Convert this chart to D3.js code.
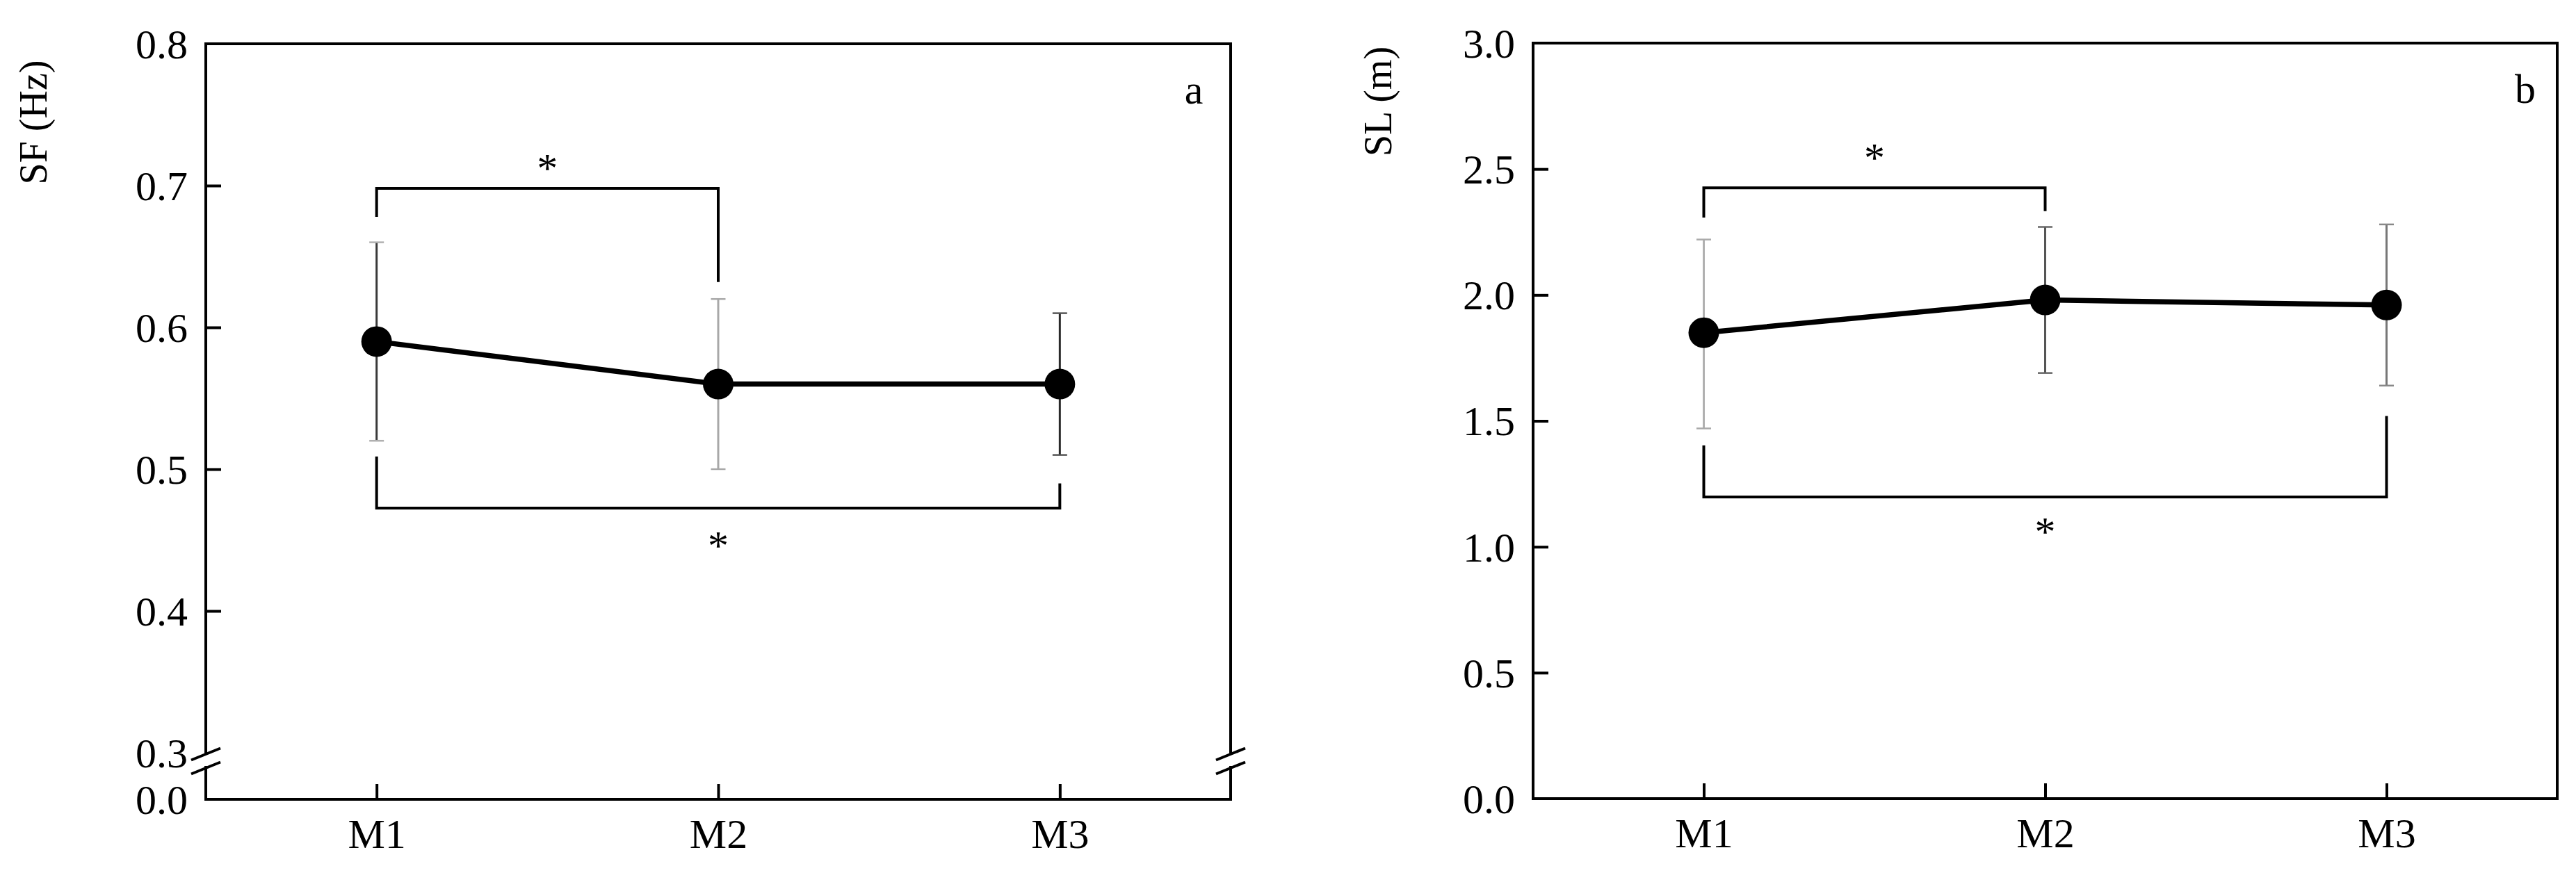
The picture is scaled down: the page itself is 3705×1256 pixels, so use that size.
<!DOCTYPE html>
<html>
<head>
  <meta charset="utf-8">
  <style>
    body { margin: 0; background: #fff; }
    text { font-family: "Liberation Serif", "Times New Roman", serif; fill: #000; }
  </style>
</head>
<body>
<script src="https://d3js.org/d3.v7.min.js"></script>
<script>

// categories and values
var groups = ["M1", "M2", "M3"];

var sfMean = [0.59, 0.56, 0.56];
var sfLow  = [0.52, 0.50, 0.51];
var sfHigh = [0.66, 0.62, 0.61];
var sfTicks = [0.0, 0.3, 0.4, 0.5, 0.6, 0.7, 0.8];

var slMean = [1.85, 1.98, 1.96];
var slLow  = [1.47, 1.69, 1.64];
var slHigh = [2.22, 2.27, 2.28];
var slTicks = [0.0, 0.5, 1.0, 1.5, 2.0, 2.5, 3.0];

// significance brackets: from group, to group, bar level, leg ends, star level
var sfSig = [
  { a: 0, b: 1, y: 0.698, endA: 0.678, endB: 0.632, star: 0.716 },
  { a: 0, b: 2, y: 0.4725, endA: 0.509, endB: 0.490, star: 0.450 }
];
var slSig = [
  { a: 0, b: 1, y: 2.425, endA: 2.307, endB: 2.333, star: 2.566 },
  { a: 0, b: 2, y: 1.1975, endA: 1.403, endB: 1.519, star: 1.083 }
];

var W = 3705, H = 1256;
var svg = d3.select("body").append("svg")
  .attr("width", W)
  .attr("height", H);
svg.append("rect").attr("width", W).attr("height", H).attr("fill", "#fff");

function drawPanel(p) {
  var g = svg.append("g");

  var x = d3.scaleLinear().domain([0.5, 3.5]).range([p.left, p.right]);
  var y = d3.scaleLinear().domain(p.yDomain).range(p.yRange);

  // y axis (ticks point inward)
  var yAxis = g.append("g")
    .attr("transform", "translate(" + p.left + ",0)")
    .call(d3.axisLeft(y).tickValues(p.ticks).tickSize(-22).tickPadding(26)
      .tickFormat(d3.format(".1f")));
  yAxis.select(".domain").remove();
  yAxis.selectAll(".tick line")
    .attr("stroke", "#000").attr("stroke-width", 4)
    .attr("display", function(d) { return p.noTick.indexOf(d) >= 0 ? "none" : null; });
  yAxis.selectAll(".tick text").attr("font-size", 60).attr("dy", "0.34em");

  // x axis
  var xAxis = g.append("g")
    .attr("transform", "translate(0," + p.bottom + ")")
    .call(d3.axisBottom(x).tickValues([1, 2, 3]).tickSize(-22).tickPadding(27)
      .tickFormat(function(d) { return groups[d - 1]; }));
  xAxis.select(".domain").remove();
  xAxis.selectAll(".tick line").attr("stroke", "#000").attr("stroke-width", 4);
  xAxis.selectAll(".tick text").attr("font-size", 60);

  // frame
  var frame = g.append("g").attr("stroke", "#000").attr("stroke-width", 4)
    .attr("stroke-linecap", "square").attr("fill", "none");
  frame.append("line").attr("x1", p.left).attr("x2", p.right).attr("y1", p.top).attr("y2", p.top);
  frame.append("line").attr("x1", p.left).attr("x2", p.right).attr("y1", p.bottom).attr("y2", p.bottom);
  [p.left, p.right].forEach(function(xx) {
    if (p.brk) {
      frame.append("line").attr("x1", xx).attr("x2", xx).attr("y1", p.top).attr("y2", p.brk[0]);
      frame.append("line").attr("x1", xx).attr("x2", xx).attr("y1", p.brk[1]).attr("y2", p.bottom);
      [p.brk[0] + 2, p.brk[1] + 1].forEach(function(cy) {
        frame.append("line").attr("stroke-linecap", "butt")
          .attr("x1", xx - 21).attr("y1", cy + 8.5)
          .attr("x2", xx + 21).attr("y2", cy - 8.5);
      });
    } else {
      frame.append("line").attr("x1", xx).attr("x2", xx).attr("y1", p.top).attr("y2", p.bottom);
    }
  });

  // error bars
  var err = g.append("g");
  p.mean.forEach(function(m, i) {
    var cx = x(i + 1);
    err.append("line").attr("x1", cx).attr("x2", cx)
      .attr("y1", y(p.low[i])).attr("y2", y(p.high[i]))
      .attr("stroke", p.errColor[i]).attr("stroke-width", 3);
    [p.low[i], p.high[i]].forEach(function(v) {
      err.append("line").attr("x1", cx - 10.5).attr("x2", cx + 10.5)
        .attr("y1", y(v)).attr("y2", y(v))
        .attr("stroke", p.capColor[i]).attr("stroke-width", 2.5);
    });
  });

  // mean line and markers
  var line = d3.line()
    .x(function(d, i) { return x(i + 1); })
    .y(function(d) { return y(d); });
  g.append("path").attr("d", line(p.mean))
    .attr("fill", "none").attr("stroke", "#000").attr("stroke-width", 7.5);
  g.selectAll("circle.pt").data(p.mean).enter().append("circle")
    .attr("class", "pt")
    .attr("cx", function(d, i) { return x(i + 1); })
    .attr("cy", function(d) { return y(d); })
    .attr("r", 22)
    .attr("fill", "#000");

  // significance brackets
  p.sig.forEach(function(s) {
    var xa = x(s.a + 1), xb = x(s.b + 1);
    g.append("path")
      .attr("d", "M" + xa + "," + y(s.endA) + "V" + y(s.y) + "H" + xb + "V" + y(s.endB))
      .attr("fill", "none").attr("stroke", "#000").attr("stroke-width", 4);
    g.append("text")
      .attr("x", (xa + xb) / 2)
      .attr("y", y(s.star) + 28)
      .attr("text-anchor", "middle")
      .attr("font-size", 60)
      .text("*");
  });

  // panel letter
  g.append("text").attr("x", p.letterX).attr("y", p.top + 86)
    .attr("text-anchor", "middle").attr("font-size", 60).text(p.letter);

  // y title
  g.append("text")
    .attr("transform", "translate(" + p.titleX + "," + p.titleY + ") rotate(-90)")
    .attr("text-anchor", "middle")
    .attr("font-size", 56)
    .text(p.title);
}

drawPanel({
  left: 296, right: 1770, top: 63, bottom: 1150,
  yDomain: [0.0, 0.3, 0.8], yRange: [1150, 1083, 63],
  ticks: sfTicks, noTick: [0.0, 0.3, 0.8],
  brk: [1083, 1104],
  mean: sfMean, low: sfLow, high: sfHigh,
  errColor: ["#3a3a3a", "#a8a8a8", "#2a2a2a"],
  capColor: ["#b0b0b0", "#a8a8a8", "#555"],
  sig: sfSig,
  letter: "a", letterX: 1717,
  title: "SF (Hz)", titleX: 67, titleY: 176
});

drawPanel({
  left: 2205, right: 3678, top: 62, bottom: 1149,
  yDomain: [0.0, 3.0], yRange: [1149, 62],
  ticks: slTicks, noTick: [0.0, 3.0],
  brk: null,
  mean: slMean, low: slLow, high: slHigh,
  errColor: ["#b0b0b0", "#555", "#777"],
  capColor: ["#aaa", "#666", "#888"],
  sig: slSig,
  letter: "b", letterX: 3632,
  title: "SL (m)", titleX: 2001, titleY: 146
});

</script>
</body>
</html>
